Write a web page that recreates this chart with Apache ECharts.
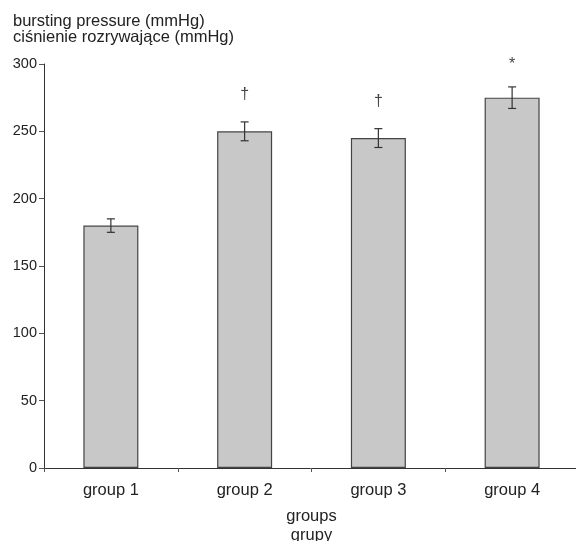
<!DOCTYPE html>
<html>
<head>
<meta charset="utf-8">
<script src="https://cdn.jsdelivr.net/npm/echarts@6/dist/echarts.min.js"></script>
<style>html,body{margin:0;padding:0;background:#fff;}#c{width:576px;height:541px;}</style>
</head>
<body>
<div id="c"></div>
<script>
var categories = ['group 1', 'group 2', 'group 3', 'group 4'];
var means = [180, 250, 245, 275];
var errors = [5, 7, 7, 8];
var marks = ['', '\u2020', '\u2020', '*'];
var yTicks = [0, 50, 100, 150, 200, 250, 300];

var FONT = "'Liberation Sans', Arial, Helvetica, sans-serif";
var chart = echarts.init(document.getElementById('c'));
var errData = categories.map(function (c, i) { return [i, means[i], errors[i]]; });

chart.setOption({
  animation: false,
  backgroundColor: '#fff',
  textStyle: { fontFamily: FONT },
  title: {
    text: 'bursting pressure (mmHg)\nciśnienie rozrywające (mmHg)',
    left: 8, top: 8,
    textStyle: { fontFamily: FONT, fontSize: 16.5, fontWeight: 'normal', color: '#222', lineHeight: 16 }
  },
  grid: { left: 44, right: -3, top: 64, bottom: 73, containLabel: false, outerBoundsMode: 'none' },
  xAxis: {
    type: 'category',
    data: categories,
    axisLine: { lineStyle: { color: '#333', width: 1 } },
    axisTick: { show: true, length: 4, lineStyle: { color: '#555' } },
    axisLabel: { color: '#222', fontSize: 16.5, margin: 14, fontFamily: FONT },
    name: 'groups\ngrupy',
    nameLocation: 'middle',
    nameGap: 39,
    nameTextStyle: { color: '#222', fontSize: 16.5, lineHeight: 19, fontFamily: FONT }
  },
  yAxis: {
    type: 'value',
    min: yTicks[0], max: yTicks[yTicks.length - 1], interval: 50,
    axisLine: { show: true, lineStyle: { color: '#333', width: 1 } },
    axisTick: { show: true, length: 5, lineStyle: { color: '#555' } },
    axisLabel: { color: '#222', fontSize: 14.5, margin: 7, fontFamily: FONT },
    splitLine: { show: false }
  },
  series: [
    {
      type: 'bar',
      data: means,
      barWidth: 55,
      itemStyle: { color: '#c8c8c8', borderColor: '#444', borderWidth: 1.2 }
    },
    {
      type: 'custom',
      data: errData,
      z: 5,
      renderItem: function (params, api) {
        var i = api.value(0), m = api.value(1), e = api.value(2);
        var top = api.coord([i, m + e]);
        var bot = api.coord([i, m - e]);
        var hw = 4;
        var children = [
          { type: 'line', shape: { x1: top[0], y1: top[1], x2: bot[0], y2: bot[1] }, style: { stroke: '#333', lineWidth: 1.2 } },
          { type: 'line', shape: { x1: top[0] - hw, y1: top[1], x2: top[0] + hw, y2: top[1] }, style: { stroke: '#333', lineWidth: 1.2 } },
          { type: 'line', shape: { x1: bot[0] - hw, y1: bot[1], x2: bot[0] + hw, y2: bot[1] }, style: { stroke: '#333', lineWidth: 1.2 } }
        ];
        var mk = marks[params.dataIndex];
        if (mk) {
          children.push({
            type: 'text',
            style: {
              text: mk, x: top[0], y: top[1] - (mk === '*' ? 22 : 27),
              align: 'center', verticalAlign: 'middle',
              fill: '#444', fontSize: 16, fontFamily: FONT
            }
          });
        }
        return { type: 'group', children: children };
      }
    }
  ]
});
</script>
</body>
</html>
